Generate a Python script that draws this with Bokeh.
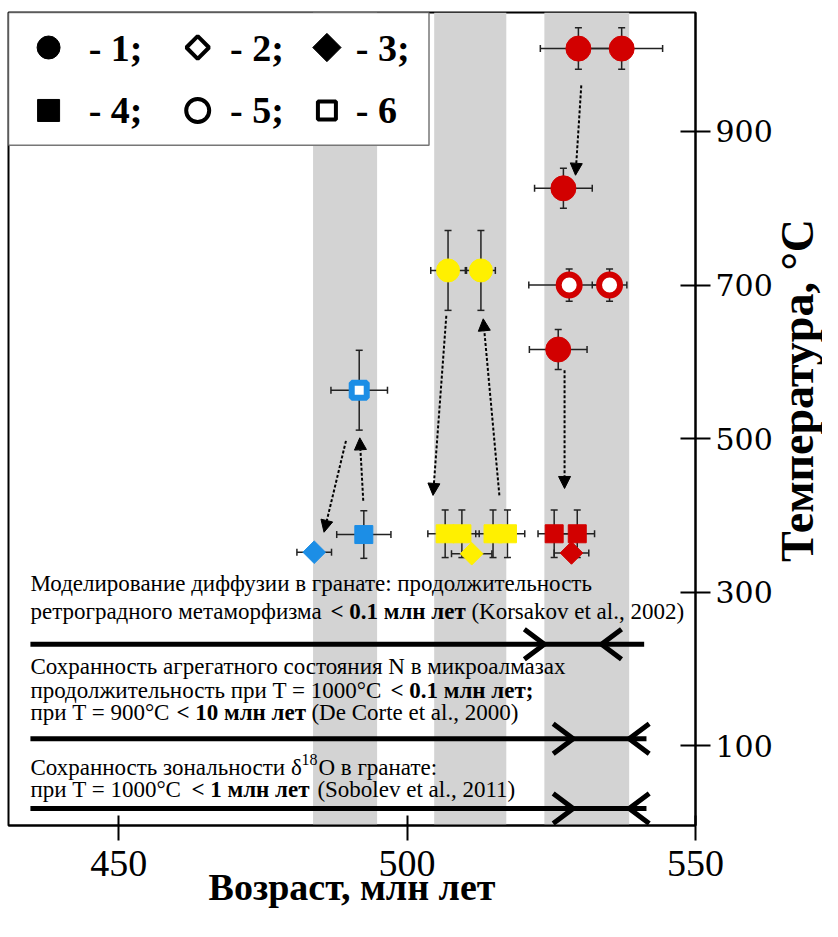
import math
from bokeh.plotting import figure
from bokeh.layouts import row
from bokeh.models import (Range1d, FixedTicker, Whisker, TeeHead, Arrow,
                          NormalHead, ColumnDataSource)
from bokeh.core.properties import value
from bokeh.embed import file_html
from bokeh.resources import INLINE

RED = "#d20000"
YEL = "#fff000"
BLUE = "#1c8ee6"
SERIF = "Liberation Serif"

# ---------------- data ----------------
band_left = [483.7, 504.7, 523.8]
band_right = [494.8, 517.2, 538.5]

# series 1: filled circles
red_c1_age = [529.7, 537.2, 527.1, 526.2]
red_c1_temp = [1008, 1008, 826, 616]
red_c1_age_err = [6.6, 7.1, 5.0, 5.0]
red_c1_temp_err = [27, 27, 26, 26]

yel_c1_age = [507.1, 512.8]
yel_c1_temp = [719, 719]
yel_c1_age_err = [3.0, 2.5]
yel_c1_temp_err = [52, 52]

# series 5: open circles
red_c5_age = [528.1, 535.1]
red_c5_temp = [700, 700]
red_c5_age_err = [7.0, 3.0]
red_c5_temp_err = [21, 21]

# series 4: filled squares
red_s4_age = [525.5, 529.5]
red_s4_temp = [376, 376]
red_s4_age_err = [2.8, 3.0]
red_s4_temp_err = [31, 31]

yel_s4_age = [506.6, 509.5, 514.9, 517.4]
yel_s4_temp = [376, 376, 376, 376]
yel_s4_age_err = [3.0, 3.0, 3.0, 3.0]
yel_s4_temp_err = [31, 31, 31, 31]

blue_s4_age = [492.5]
blue_s4_temp = [375]
blue_s4_age_err = [4.7]
blue_s4_temp_err = [31]

# series 3: filled diamonds
red_d3_age = [528.5]
red_d3_temp = [351]
red_d3_age_err = [3.0]

yel_d3_age = [511.2]
yel_d3_temp = [350]
yel_d3_age_err = [3.5]

blue_d3_age = [483.9]
blue_d3_temp = [352]
blue_d3_age_err = [3.0]

# series 6: open square
blue_s6_age = [491.7]
blue_s6_temp = [563]
blue_s6_age_err = [4.9]
blue_s6_temp_err = [52]

# dotted arrows (start -> end)
arr_age0 = [530.2, 527.3, 506.8, 516.0, 489.4, 492.4]
arr_temp0 = [960, 589, 660, 426, 497, 419]
arr_age1 = [529.2, 527.3, 504.5, 513.2, 485.6, 491.8]
arr_temp1 = [843, 435, 426, 656, 378, 501]

# duration bars at the bottom
bar_temp = [232, 109, 18]
bar_start = [434.7, 434.7, 434.7]
bar_end = [541.1, 541.5, 541.5]
bar_tip_right = [523.8, 528.8, 528.8]   # ">" tips
bar_tip_left = [533.7, 538.5, 538.5]    # "<" tips

# notes
note_anchor_age = 434.7
note_line_temp = [311, 275, 203, 172, 143, 71, 43]
note_text = [
    "Моделирование диффузии в гранате: продолжительность",
    "ретроградного метаморфизма", "< 0.1 млн лет", "(Korsakov et al., 2002)",
    "Сохранность агрегатного состояния N в микроалмазах",
    "продолжительность при T = 1000°C", "< 0.1 млн лет;",
    "при T = 900°C", "< 10 млн лет", "(De Corte et al., 2000)",
    "Сохранность зональности δ", "O в гранате:",
    "при T = 1000°C", "< 1 млн лет", "(Sobolev et al., 2011)",
]
note_line = [0, 1, 1, 1, 2, 3, 3, 4, 4, 4, 5, 5, 6, 6, 6]
note_bold = [0, 0, 1, 0, 0, 0, 1, 0, 1, 0, 0, 0, 0, 1, 0]
note_dx = [0, 0, 300, 441, 0, 0, 360, 0, 146, 281, 0, 288, 0, 161, 287]
sup_text = ["18"]
sup_line = [5]
sup_dx = [271]

# legend
leg_labels = ["- 1;", "- 2;", "- 3;", "- 4;", "- 5;", "- 6"]
leg_age = [437.85, 463.7, 486.1, 437.85, 463.7, 486.1]
leg_temp = [1009.4, 1009.4, 1009.4, 927.4, 927.4, 927.4]
leg_text_age = [444.8, 469.3, 491.1, 444.8, 469.3, 491.1]
leg_box = (430.9, 503.8, 882, 1055)

x_title = "Возраст, млн лет"
y_title = "Температура, °C"
y_title_temp = 562.6

# ---------------- main figure ----------------
p = figure(width=775, height=921,
           x_range=Range1d(430.9, 550), y_range=Range1d(-4, 1055),
           y_axis_location="right", output_backend="svg",
           toolbar_location=None,
           min_border_left=8, min_border_top=12,
           min_border_right=80, min_border_bottom=96,
           background_fill_color="white", border_fill_color="white",
           outline_line_color="black", outline_line_width=2)
p.xgrid.visible = False
p.ygrid.visible = False

xa = p.xaxis[0]
xa.ticker = FixedTicker(ticks=[450, 500, 550])
xa.major_tick_in = 10
xa.major_tick_out = 15
xa.major_tick_line_width = 2
xa.minor_tick_line_color = None
xa.axis_line_width = 2
xa.major_label_text_font = SERIF
xa.major_label_text_font_size = "38px"
xa.major_label_text_color = "black"
xa.major_label_standoff = 10
xa.axis_label = x_title
xa.axis_label_text_font = SERIF
xa.axis_label_text_font_size = "38px"
xa.axis_label_text_font_style = "bold"
xa.axis_label_text_color = "black"
xa.axis_label_standoff = -13

ya = p.yaxis[0]
ya.ticker = FixedTicker(ticks=[100, 300, 500, 700, 900])
ya.major_tick_in = 15
ya.major_tick_out = 15
ya.major_tick_line_width = 2
ya.minor_tick_line_color = None
ya.axis_line_width = 2
ya.major_label_text_font = "DejaVu Serif"
ya.major_label_text_font_size = "30px"
ya.major_label_text_color = "black"
ya.major_label_standoff = 5

# gray bands
p.quad(left=band_left, right=band_right, bottom=-4, top=1055,
       fill_color="#d3d3d3", line_color=None, level="underlay")


def group(age, temp, age_err, temp_err, marker, color, size,
          open_=False, lw=1, angle=0.0):
    d = dict(x=age, y=temp)
    if age_err:
        d["xl"] = [a - e for a, e in zip(age, age_err)]
        d["xu"] = [a + e for a, e in zip(age, age_err)]
    if temp_err:
        d["yl"] = [t - e for t, e in zip(temp, temp_err)]
        d["yu"] = [t + e for t, e in zip(temp, temp_err)]
    src = ColumnDataSource(d)
    if age_err:
        p.add_layout(Whisker(source=src, base="y", lower="xl", upper="xu",
                             dimension="width", line_color="#222",
                             line_width=1.5, level="underlay",
                             lower_head=TeeHead(size=7, line_color="#222", line_width=1.5),
                             upper_head=TeeHead(size=7, line_color="#222", line_width=1.5)))
    if temp_err:
        p.add_layout(Whisker(source=src, base="x", lower="yl", upper="yu",
                             dimension="height", line_color="#222",
                             line_width=1.5, level="underlay",
                             lower_head=TeeHead(size=7, line_color="#222", line_width=1.5),
                             upper_head=TeeHead(size=7, line_color="#222", line_width=1.5)))
    if open_:
        p.scatter("x", "y", source=src, marker=marker, size=size, angle=angle,
                  fill_color="white", line_color=color, line_width=lw)
    else:
        p.scatter("x", "y", source=src, marker=marker, size=size, angle=angle,
                  fill_color=color, line_color=color, line_width=1)


D = math.pi / 4
group(red_c1_age, red_c1_temp, red_c1_age_err, red_c1_temp_err, "circle", RED, 25)
group(yel_c1_age, yel_c1_temp, yel_c1_age_err, yel_c1_temp_err, "circle", YEL, 23)
group(red_c5_age, red_c5_temp, red_c5_age_err, red_c5_temp_err, "circle", RED, 21, True, 6)
group(red_s4_age, red_s4_temp, red_s4_age_err, red_s4_temp_err, "square", RED, 18)
group(yel_s4_age, yel_s4_temp, yel_s4_age_err, yel_s4_temp_err, "square", YEL, 18)
group(blue_s4_age, blue_s4_temp, blue_s4_age_err, blue_s4_temp_err, "square", BLUE, 18)
group(red_d3_age, red_d3_temp, red_d3_age_err, None, "square", RED, 16, angle=D)
group(yel_d3_age, yel_d3_temp, yel_d3_age_err, None, "square", YEL, 16, angle=D)
group(blue_d3_age, blue_d3_temp, blue_d3_age_err, None, "square", BLUE, 16, angle=D)
group(blue_s6_age, blue_s6_temp, blue_s6_age_err, blue_s6_temp_err, "square", BLUE, 15, True, 6)

# dotted arrows
arr_src = ColumnDataSource(dict(x0=arr_age0, y0=arr_temp0, x1=arr_age1, y1=arr_temp1))
p.add_layout(Arrow(source=arr_src, x_start="x0", y_start="y0", x_end="x1", y_end="y1",
                   line_color="black", line_width=2, line_dash="3 2",
                   end=NormalHead(size=12, fill_color="black", line_color="black")))

# duration bars with chevrons
p.segment(x0=bar_start, y0=bar_temp, x1=bar_end, y1=bar_temp,
          line_color="black", line_width=5)
CH_DX = 20 / 5.76
CH_DY = 15 / 0.7675
ch_xs, ch_ys = [], []
for t, r, l in zip(bar_temp, bar_tip_right, bar_tip_left):
    ch_xs.append([r - CH_DX, r, r - CH_DX])
    ch_ys.append([t + CH_DY, t, t - CH_DY])
    ch_xs.append([l + CH_DX, l, l + CH_DX])
    ch_ys.append([t + CH_DY, t, t - CH_DY])
p.multi_line(ch_xs, ch_ys, line_color="black", line_width=5, line_join="miter")

# notes
for b in (0, 1):
    idx = [i for i in range(len(note_text)) if note_bold[i] == b]
    src = ColumnDataSource(dict(
        x=[note_anchor_age] * len(idx),
        y=[note_line_temp[note_line[i]] for i in idx],
        t=[note_text[i] for i in idx],
        dx=[note_dx[i] for i in idx]))
    p.text("x", "y", text="t", x_offset="dx", source=src,
           text_font=value(SERIF), text_font_size="23px",
           text_font_style="bold" if b else "normal",
           text_baseline="middle", text_align="left", text_color="black")
sup_src = ColumnDataSource(dict(x=[note_anchor_age] * len(sup_text),
                                y=[note_line_temp[i] for i in sup_line],
                                t=sup_text, dx=sup_dx))
p.text("x", "y", text="t", x_offset="dx", y_offset=-8, source=sup_src,
       text_font=value(SERIF), text_font_size="16px",
       text_baseline="middle", text_align="left", text_color="black")

# legend box
p.quad(left=[leg_box[0]], right=[leg_box[1]], bottom=[leg_box[2]], top=[leg_box[3]],
       fill_color="white", line_color="#777", line_width=1.5)
p.scatter(x=[leg_age[0]], y=[leg_temp[0]], marker="circle", size=23, color="black")
p.scatter(x=[leg_age[1]], y=[leg_temp[1]], marker="square", angle=D, size=16,
          fill_color="white", line_color="black", line_width=4)
p.scatter(x=[leg_age[2]], y=[leg_temp[2]], marker="square", angle=D, size=20, color="black")
p.scatter(x=[leg_age[3]], y=[leg_temp[3]], marker="square", size=22, color="black")
p.scatter(x=[leg_age[4]], y=[leg_temp[4]], marker="circle", size=23,
          fill_color="white", line_color="black", line_width=4)
p.scatter(x=[leg_age[5]], y=[leg_temp[5]], marker="square", size=18,
          fill_color="white", line_color="black", line_width=4)
p.text(x=leg_text_age, y=leg_temp, text=leg_labels,
       text_font=value(SERIF), text_font_size="38px", text_font_style="bold",
       text_baseline="middle", text_align="left", text_color="black")

# ---------------- y-axis title strip (shares the temperature range) ----------------
yfig = figure(width=47, height=921, x_range=Range1d(0, 47), y_range=p.y_range,
              output_backend="svg", toolbar_location=None, min_border=0,
              min_border_top=12, min_border_bottom=96,
              x_axis_location=None, y_axis_location=None,
              outline_line_color=None, background_fill_color="white",
              border_fill_color="white")
yfig.xgrid.visible = False
yfig.ygrid.visible = False
yfig.text(x=[22], y=[y_title_temp], text=[y_title], angle=math.pi / 2,
          text_font=value(SERIF), text_font_size="46px", text_font_style="bold",
          text_align="center", text_baseline="middle", text_color="black")

layout = row(p, yfig)
open("out.html", "w").write(file_html(layout, INLINE))
